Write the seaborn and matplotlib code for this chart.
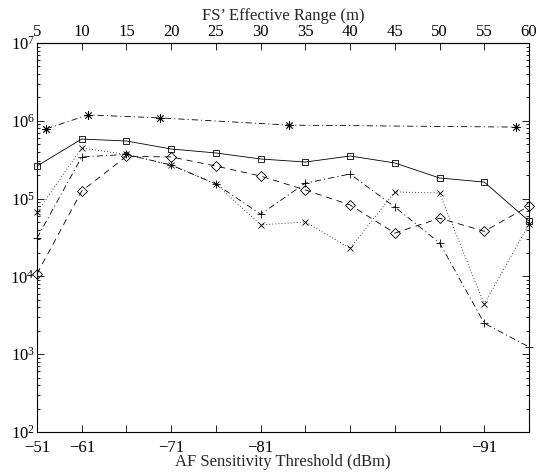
import numpy as np
import matplotlib
matplotlib.use("Agg")
import matplotlib.pyplot as plt
from matplotlib.ticker import LogLocator, FuncFormatter, NullFormatter
import seaborn as sns

# FS' effective range (m) for each measurement point, and the matching AF thresholds
ranges = [5, 10, 15, 20, 25, 30, 35, 40, 45, 50, 55, 60]
range_labels = [str(r) for r in ranges]
threshold_labels = ["\u221251", "\u221261", "", "\u221271", "", "\u221281",
                    "", "", "", "", "\u221291", ""]

# measured series
square_vals = [2.62e5, 5.83e5, 5.5e5, 4.34e5, 3.86e5, 3.23e5,
               2.95e5, 3.53e5, 2.87e5, 1.84e5, 1.63e5, 5.15e4]
diamond_vals = [1.08e4, 1.25e5, 3.5e5, 3.43e5, 2.62e5, 1.95e5,
                1.29e5, 8.3e4, 3.6e4, 5.6e4, 3.8e4, 8.0e4]
cross_vals = [6.7e4, 4.47e5, 3.7e5, 2.7e5, 1.54e5, 4.6e4,
              5.0e4, 2.3e4, 1.22e5, 1.18e5, 4.4e3, 4.7e4]
plus_vals = [3.1e4, 3.43e5, 3.7e5, 2.7e5, 1.54e5, 6.3e4,
             1.58e5, 2.07e5, 7.8e4, 2.7e4, 2.5e3, 1.24e3]

# reference curve sampled at its own ranges
star_ranges = [6.0, 10.7, 18.75, 33.2, 58.5]
star_vals = [7.85e5, 1.19e6, 1.09e6, 8.8e5, 8.3e5]

FS = 12

sns.set_style("ticks")
plt.rcParams.update({
    "font.family": ["Liberation Serif", "DejaVu Serif"],
    "mathtext.default": "regular",
    "font.size": FS,
    "lines.scale_dashes": False,
    "axes.linewidth": 0.8,
    "xtick.color": "black",
    "ytick.color": "black",
    "axes.edgecolor": "black",
})

fig = plt.figure(figsize=(5.4, 4.76), dpi=100)
ax = fig.add_axes([37 / 540, 1 - 432 / 476, (529 - 37) / 540, (432 - 43) / 476])
ax.set_yscale("log")

common = dict(ax=ax, color="black", linewidth=0.6, markerfacecolor="none",
              markeredgecolor="black", markeredgewidth=0.6, sort=False,
              estimator=None, errorbar=None, clip_on=False)

sns.lineplot(x=ranges, y=square_vals, marker="s", markersize=5,
             linestyle="-", **common)
sns.lineplot(x=ranges, y=diamond_vals, marker="D", markersize=4.6,
             linestyle=(0, (4.5, 3.5)), **common)
sns.lineplot(x=ranges, y=cross_vals, marker="x", markersize=4.5,
             linestyle=(0, (0.6, 1.6)), **common)
sns.lineplot(x=ranges, y=plus_vals, marker="+", markersize=6,
             linestyle=(0, (4.5, 2.2, 0.8, 2.2)), **common)
sns.lineplot(x=star_ranges, y=star_vals, marker=(8, 2, 0), markersize=6,
             linestyle=(0, (4.5, 2.2, 0.8, 2.2)), **common)

ax.set_xlim(5, 60)
ax.set_ylim(1e2, 1e7)

ax.yaxis.set_major_locator(LogLocator(base=10, numticks=10))
ax.yaxis.set_minor_locator(LogLocator(base=10, subs=np.arange(2, 10), numticks=20))
ax.yaxis.set_major_formatter(FuncFormatter(lambda v, p: r"$10^{%d}$" % round(np.log10(v))))
ax.yaxis.set_minor_formatter(NullFormatter())

ax.set_xticks(ranges)
ax.set_xticklabels(threshold_labels)
ax.tick_params(axis="x", which="both", direction="in", length=5, width=0.6,
               top=False, pad=5.5, labelsize=FS)
ax.tick_params(axis="y", which="major", direction="in", length=5, width=0.6,
               right=True, pad=1.5, labelsize=FS)
ax.tick_params(axis="y", which="minor", direction="in", length=2.5, width=0.6,
               right=True)
ax.set_xlabel("AF Sensitivity Threshold (dBm)", labelpad=-1, fontsize=FS)
ax.set_ylabel("")

top = ax.secondary_xaxis("top")
top.set_xticks(ranges)
top.set_xticklabels(range_labels)
top.tick_params(direction="in", length=5, width=0.6, pad=2, labelsize=FS)
top.set_xlabel("FS\u2019 Effective Range (m)", labelpad=3, fontsize=FS)

for s in ax.spines.values():
    s.set_visible(True)
    s.set_linewidth(0.8)

fig.savefig("out.png", dpi=100)
